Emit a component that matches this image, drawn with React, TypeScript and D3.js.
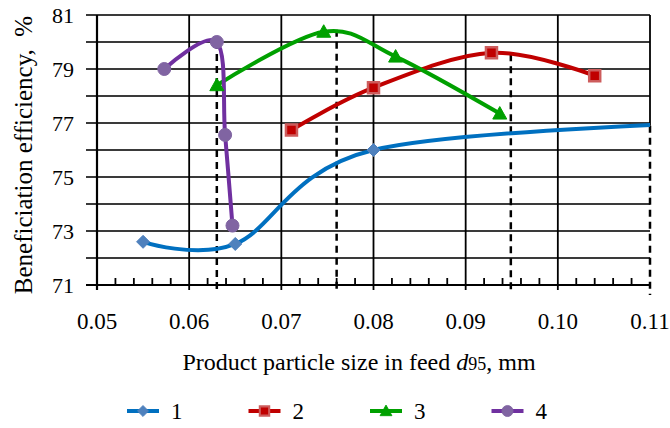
import React from "react";
import * as d3 from "d3";

// ---- data ----
const s1X = [0.055, 0.065, 0.08, 0.12];
const s1Y = [72.6, 72.52, 76.0, 77.05];
const s2X = [0.0711, 0.08, 0.0928, 0.104];
const s2Y = [76.74, 78.31, 79.6, 78.75];
const s3X = [0.063, 0.0746, 0.0824, 0.0937];
const s3Y = [78.4, 80.38, 79.46, 77.35];
const s4X = [0.0573, 0.063, 0.0639, 0.0647];
const s4Y = [79.0, 80.0, 76.56, 73.2];
const seriesNames = ["1", "2", "3", "4"];

const dropX = [0.063, 0.076, 0.0949, 0.11];
const dropY = [80.0, 80.45, 79.55, 76.9];

const xTicks = [0.05, 0.06, 0.07, 0.08, 0.09, 0.1, 0.11];
const xTickLabels = ["0.05", "0.06", "0.07", "0.08", "0.09", "0.10", "0.11"];
const yTicks = [71, 73, 75, 77, 79, 81];
const yTickLabels = ["71", "73", "75", "77", "79", "81"];

const W = 670;
const H = 428;
const L = 97, R = 650, T = 15, B = 285;
const FONT = "'Liberation Serif', 'Times New Roman', serif";

const styles = [
  { line: "#0070C0", fill: "#4F81BD", stroke: "#4F81BD", shape: "diamond" },
  { line: "#C00000", fill: "#C00000", stroke: "#CD5C5C", shape: "square" },
  { line: "#00A000", fill: "#00A000", stroke: "#00A000", shape: "triangle" },
  { line: "#7030A0", fill: "#8064A2", stroke: "#8064A2", shape: "circle" },
];

function markerPath(shape: string): string {
  const r = 6.5;
  if (shape === "diamond") return `M0,${-r}L${r},0L0,${r}L${-r},0Z`;
  if (shape === "square") return `M${-5.5},${-5.5}h11v11h-11Z`;
  if (shape === "triangle") return `M0,-7L7,5.5L-7,5.5Z`;
  return `M${r},0A${r},${r} 0 1,1 ${-r},0A${r},${r} 0 1,1 ${r},0Z`;
}

export default function App() {
  const x = d3.scaleLinear().domain([0.05, 0.11]).range([L, R]);
  const y = d3.scaleLinear().domain([71, 81]).range([B, T]);
  const line = d3
    .line<[number, number]>()
    .x((d) => x(d[0]))
    .y((d) => y(d[1]))
    .curve(d3.curveCardinal.tension(0));

  const series = [
    [s1X, s1Y],
    [s2X, s2Y],
    [s3X, s3Y],
    [s4X, s4Y],
  ].map(([xs, ys]) => xs.map((v, i) => [v, ys[i]] as [number, number]));

  const yGrid = d3.range(71, 82, 1);
  const minor = d3
    .range(0, 31)
    .map((i) => 0.05 + i * 0.002)
    .filter((v, i) => i % 5 !== 0);

  return (
    <svg
      width={W}
      height={H}
      style={{ position: "absolute", left: 0, top: 0, background: "#fff" }}
      fontFamily={FONT}
    >
      <defs>
        <clipPath id="plotclip">
          <rect x={L} y={0} width={R - L} height={300} />
        </clipPath>
      </defs>
      <rect x={0} y={0} width={W} height={H} fill="#fff" />

      {/* horizontal gridlines */}
      {yGrid.map((v) => (
        <line
          key={"hg" + v}
          x1={86}
          x2={R}
          y1={y(v)}
          y2={y(v)}
          stroke={v === 71 ? "#000" : "#3a3a3a"}
          strokeWidth={v === 71 ? 2.2 : 1.8}
        />
      ))}

      {/* vertical gridlines */}
      {xTicks.map((v, i) => {
        const isLast = i === xTicks.length - 1;
        return (
          <line
            key={"vg" + v}
            x1={x(v)}
            x2={x(v)}
            y1={T}
            y2={isLast ? y(dropY[3]) : 290}
            stroke="#000"
            strokeWidth={i === 0 ? 2.2 : 1.8}
          />
        );
      })}

      {/* minor ticks */}
      {minor.map((v) => (
        <line
          key={"mt" + v}
          x1={x(v)}
          x2={x(v)}
          y1={B}
          y2={B - 7}
          stroke="#000"
          strokeWidth={1.8}
        />
      ))}

      {/* drop lines */}
      {dropX.map((v, i) => (
        <line
          key={"dl" + i}
          x1={x(v)}
          x2={x(v)}
          y1={y(dropY[i])}
          y2={i === 3 ? 295 : 291}
          stroke="#000"
          strokeWidth={2.5}
          strokeDasharray="7,5"
        />
      ))}

      {/* series lines */}
      <g clipPath="url(#plotclip)">
        {series.map((pts, i) => (
          <path
            key={"ln" + i}
            d={line(pts) || ""}
            fill="none"
            stroke={styles[i].line}
            strokeWidth={4}
            strokeLinecap="round"
            strokeLinejoin="round"
          />
        ))}
        {series.map((pts, i) =>
          pts.map((p, j) => (
            <path
              key={"mk" + i + "-" + j}
              d={markerPath(styles[i].shape)}
              transform={`translate(${x(p[0])},${y(p[1])})`}
              fill={styles[i].fill}
              stroke={styles[i].stroke}
              strokeWidth={i === 1 ? 2.5 : 1}
            />
          ))
        )}
      </g>

      {/* y tick labels */}
      {yTicks.map((v, i) => (
        <text
          key={"yl" + v}
          x={74}
          y={y(v)}
          dy="0.35em"
          textAnchor="end"
          fontSize={22}
          fill="#000"
        >
          {yTickLabels[i]}
        </text>
      ))}

      {/* x tick labels */}
      {xTicks.map((v, i) => (
        <text
          key={"xl" + v}
          x={x(v)}
          y={329}
          textAnchor="middle"
          fontSize={23}
          fill="#000"
        >
          {xTickLabels[i]}
        </text>
      ))}

      {/* axis titles */}
      <text
        x={359}
        y={370}
        textAnchor="middle"
        fontSize={24}
        fill="#000"
      >
        Product particle size in feed{" "}
        <tspan fontStyle="italic">d</tspan>
        <tspan fontSize={18}>95</tspan>
        , mm
      </text>
      <text
        transform="translate(32,155) rotate(-90)"
        textAnchor="middle"
        fontSize={25}
        fill="#000"
        style={{ whiteSpace: "pre" }}
      >
        {"Beneficiation efficiency,  %"}
      </text>

      {/* legend */}
      {seriesNames.map((name, i) => {
        const x0 = 127 + i * 121.5;
        const ly = 411;
        return (
          <g key={"lg" + i}>
            <line
              x1={x0}
              x2={x0 + 32}
              y1={ly}
              y2={ly}
              stroke={styles[i].line}
              strokeWidth={4}
            />
            <path
              d={markerPath(styles[i].shape)}
              transform={`translate(${x0 + 16},${ly}) scale(0.85)`}
              fill={styles[i].fill}
              stroke={styles[i].stroke}
              strokeWidth={i === 1 ? 2.5 : 1}
            />
            <text x={x0 + 44} y={ly} dy="0.35em" fontSize={23} fill="#000">
              {name}
            </text>
          </g>
        );
      })}
    </svg>
  );
}
